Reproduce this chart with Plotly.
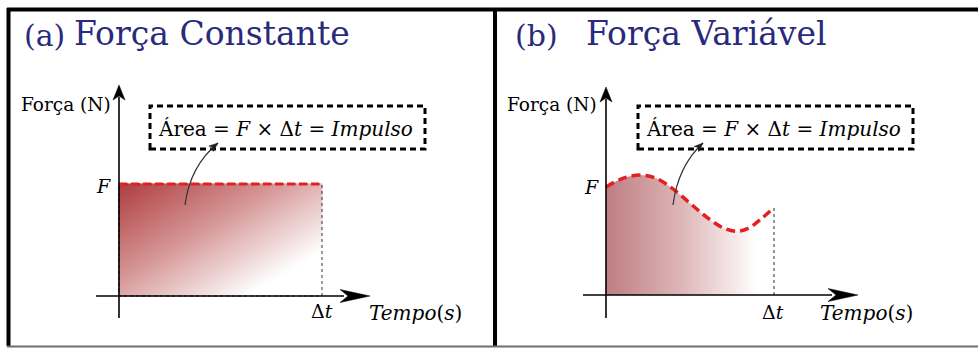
import numpy as np
import plotly.graph_objects as go

# ---------------- data ----------------
F_CONST = 1.0      # constant force level (units of F)
DT = 1.0           # duration of the impulse, Δt
# variable force F(t) sampled over [0, Δt]
t_var = [0.0, 0.1, 0.2, 0.3, 0.4, 0.5, 0.6, 0.7, 0.78, 0.85, 0.92, 1.0]
f_var = [1.0, 1.08, 1.11, 1.08, 0.98, 0.85, 0.72, 0.62, 0.59, 0.62, 0.70, 0.81]

panel_tags = ["(a)", "(b)"]
panel_names = ["Força Constante", "Força Variável"]
y_label = "Força (N)"
x_label = "<i>Tempo</i>(<i>s</i>)"
area_label = "Área = <i>F</i> × Δ<i>t</i> = <i>Impulso</i>"
f_tick = "<i>F</i>"
dt_tick = "Δ<i>t</i>"

# ---------------- layout geometry ----------------
W, H = 978, 348
SERIF = "DejaVu Serif"
NAVY = "rgb(42,42,125)"
RED = "rgb(228,32,32)"

panels = [
    dict(x0=0, x1=495, ox=119, oy=296, sx=203, sy=112, xa="x", ya="y"),
    dict(x0=495, x1=978, ox=606, oy=295, sx=168, sy=108, xa="x2", ya="y2"),
]


def dx(p, px):
    return (px - p["ox"]) / p["sx"]


def dy(p, py):
    return (p["oy"] - py) / p["sy"]


fig = go.Figure()
shapes = []
annotations = []

# ---- panel (a): constant force, diagonal shading ----
pa = panels[0]
gx = np.linspace(0, DT, 160)
gy = np.linspace(0, F_CONST, 90)
u = gx[None, :] * pa["sx"]                 # px from left edge of the area
v = (F_CONST - gy[:, None]) * pa["sy"]     # px from top edge of the area
shade = np.clip(0.0032 * u + 0.0053 * v, 0, 1)
fig.add_trace(go.Heatmap(
    x=gx, y=gy, z=shade, zmin=0, zmax=1, zsmooth="best",
    colorscale=[[0, "rgb(176,62,64)"], [0.5, "rgb(214,150,150)"], [1, "rgb(255,255,255)"]],
    showscale=False, hoverinfo="skip", xaxis="x", yaxis="y",
))
fig.add_trace(go.Scatter(
    x=[0, DT, DT, 0, 0], y=[F_CONST, F_CONST, 0, 0, F_CONST], mode="lines",
    line=dict(color="rgba(20,20,20,0.85)", width=1, dash="dot"),
    hoverinfo="skip", xaxis="x", yaxis="y",
))
fig.add_trace(go.Scatter(
    x=[0, DT], y=[F_CONST, F_CONST], mode="lines",
    line=dict(color=RED, width=3, dash="8px,4px"),
    hoverinfo="skip", xaxis="x", yaxis="y",
))

# ---- panel (b): variable force, horizontal shading ----
fig.add_trace(go.Scatter(
    x=t_var, y=f_var, mode="lines", fill="tozeroy",
    line=dict(width=0, shape="spline", smoothing=1.0),
    fillgradient=dict(type="horizontal",
                      colorscale=[[0, "rgb(190,126,130)"], [0.45, "rgb(222,182,184)"],
                                  [0.9, "rgb(255,255,255)"], [1, "rgb(255,255,255)"]]),
    hoverinfo="skip", xaxis="x2", yaxis="y2",
))
fig.add_trace(go.Scatter(
    x=[t_var[-1], t_var[-1]], y=[0, f_var[-1]], mode="lines",
    line=dict(color="rgba(20,20,20,0.9)", width=1, dash="dot"),
    hoverinfo="skip", xaxis="x2", yaxis="y2",
))
fig.add_trace(go.Scatter(
    x=t_var, y=f_var, mode="lines",
    line=dict(color=RED, width=3.5, dash="9px,5px", shape="spline", smoothing=1.0),
    hoverinfo="skip", xaxis="x2", yaxis="y2",
))


def arrowhead_path(p, tip, back, half, notch):
    """Stealth-style arrowhead given in pixel coordinates, returned in data coords."""
    tx, ty = tip
    bx, by = back
    L = np.hypot(tx - bx, ty - by)
    ux, uy = (tx - bx) / L, (ty - by) / L
    nx, ny = -uy, ux
    pts = [
        (tx, ty),
        (bx + nx * half, by + ny * half),
        (bx + ux * notch, by + uy * notch),
        (bx - nx * half, by - ny * half),
    ]
    d = "M " + " L ".join(f"{dx(p, x):.5f},{dy(p, y):.5f}" for x, y in pts) + " Z"
    return d


# axes, arrows, boxes and labels for each panel
axis_px = [
    dict(xl=96, xtip=370, xlen=30, yb=318, ytip=85, ylen=15,
         box=(150, 106, 425, 149), ptr=((185, 205), (190, 166), (218, 143)),
         area=(285, 129), flab=(103, 186), dtlab=(322, 311), tlab=(415, 313),
         ylab=(66, 104), tag=(44, 35), name=(212, 33)),
    dict(xl=583, xtip=858, xlen=30, yb=318, ytip=87, ylen=15,
         box=(638, 106, 913, 149), ptr=((673, 205), (678, 166), (703, 143)),
         area=(773, 129), flab=(591, 187), dtlab=(773, 312), tlab=(866, 313),
         ylab=(552, 104), tag=(536, 35), name=(706, 33)),
]

for i, (p, g) in enumerate(zip(panels, axis_px)):
    xr, yr = p["xa"], p["ya"]
    # horizontal axis line + arrowhead
    shapes.append(dict(type="line", xref=xr, yref=yr,
                       x0=dx(p, g["xl"]), x1=dx(p, g["xtip"] - g["xlen"] + 4), y0=0, y1=0,
                       line=dict(color="black", width=1.6)))
    shapes.append(dict(type="path", xref=xr, yref=yr,
                       path=arrowhead_path(p, (g["xtip"], p["oy"]),
                                           (g["xtip"] - g["xlen"], p["oy"]), 6.5, 8),
                       fillcolor="black", line=dict(color="black", width=0.5)))
    # vertical axis line + arrowhead
    shapes.append(dict(type="line", xref=xr, yref=yr,
                       x0=0, x1=0, y0=dy(p, g["yb"]), y1=dy(p, g["ytip"] + g["ylen"] - 3),
                       line=dict(color="black", width=1.6)))
    shapes.append(dict(type="path", xref=xr, yref=yr,
                       path=arrowhead_path(p, (p["ox"], g["ytip"]),
                                           (p["ox"], g["ytip"] + g["ylen"]), 6, 4),
                       fillcolor="black", line=dict(color="black", width=0.5)))
    # dashed box around the formula
    bx0, by0, bx1, by1 = g["box"]
    shapes.append(dict(type="rect", xref=xr, yref=yr,
                       x0=dx(p, bx0), x1=dx(p, bx1), y0=dy(p, by1), y1=dy(p, by0),
                       line=dict(color="black", width=3, dash="6px,4px")))
    # curved pointer from the area to the formula
    (p0x, p0y), (cx, cy), (p2x, p2y) = g["ptr"]
    shapes.append(dict(type="path", xref=xr, yref=yr,
                       path=(f"M {dx(p, p0x):.5f},{dy(p, p0y):.5f} "
                             f"Q {dx(p, cx):.5f},{dy(p, cy):.5f} {dx(p, p2x):.5f},{dy(p, p2y):.5f}"),
                       line=dict(color="rgb(50,50,50)", width=1.2)))
    d = np.hypot(p2x - cx, p2y - cy)
    back = (p2x - (p2x - cx) / d * 9, p2y - (p2y - cy) / d * 9)
    shapes.append(dict(type="path", xref=xr, yref=yr,
                       path=arrowhead_path(p, (p2x, p2y), back, 3.5, 2.5),
                       fillcolor="rgb(30,30,30)", line=dict(color="rgb(30,30,30)", width=0.5)))

    def txt(pos, text, size, color="black", xanchor="center"):
        annotations.append(dict(xref=xr, yref=yr, x=dx(p, pos[0]), y=dy(p, pos[1]),
                                text=text, showarrow=False, xanchor=xanchor, yanchor="middle",
                                font=dict(family=SERIF, size=size, color=color)))

    txt(g["area"], area_label, 20)
    txt(g["flab"], f_tick, 19)
    txt(g["dtlab"], dt_tick, 19)
    txt(g["tlab"], x_label, 20)
    txt(g["ylab"], y_label, 18.5)
    txt(g["tag"], panel_tags[i], 30, NAVY)
    txt(g["name"], panel_names[i], 33, NAVY)

# panel frames
def pxx(x):
    return x / W


def pxy(y):
    return 1 - y / H


frame = [
    (8.5, 8, 8.5, 346, 4, "black"),
    (495, 8, 495, 346, 4, "black"),
    (7, 9.5, 978, 9.5, 4, "black"),
    (7, 346.5, 978, 346.5, 2, "rgb(110,110,110)"),
]
for x0, y0, x1, y1, w, c in frame:
    shapes.append(dict(type="line", xref="paper", yref="paper",
                       x0=pxx(x0), y0=pxy(y0), x1=pxx(x1), y1=pxy(y1),
                       line=dict(color=c, width=w)))

ax_common = dict(visible=False, showgrid=False, zeroline=False, fixedrange=True)
pl, pr = panels
fig.update_layout(
    width=W, height=H, margin=dict(l=0, r=0, t=0, b=0),
    paper_bgcolor="white", plot_bgcolor="white", showlegend=False,
    font=dict(family=SERIF),
    xaxis=dict(domain=[pl["x0"] / W, pl["x1"] / W],
               range=[dx(pl, pl["x0"]), dx(pl, pl["x1"])], **ax_common),
    yaxis=dict(domain=[0, 1], range=[dy(pl, H), dy(pl, 0)], **ax_common),
    xaxis2=dict(domain=[pr["x0"] / W, pr["x1"] / W],
                range=[dx(pr, pr["x0"]), dx(pr, pr["x1"])], **ax_common),
    yaxis2=dict(domain=[0, 1], range=[dy(pr, H), dy(pr, 0)], anchor="x2", **ax_common),
    shapes=shapes, annotations=annotations,
)
fig.write_html("out.html")
